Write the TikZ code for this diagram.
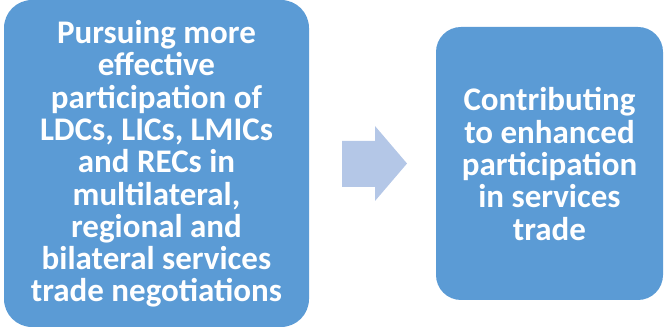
\documentclass[tikz,border=0pt]{standalone}
\usepackage{fontspec}
\setmainfont{Carlito}
\definecolor{boxblue}{HTML}{5B9BD5}
\definecolor{arrowblue}{HTML}{B4C7E7}
\begin{document}
\begin{tikzpicture}[x=1pt, y=-1pt,
    box/.style={fill=boxblue, rounded corners=28pt},
    boxtext/.style={text=white, align=center, font=\fontsize{33}{32.3}\selectfont\bfseries}]
\useasboundingbox (0,0) rectangle (665,328);
\fill[box](4,0) rectangle (309,327);
\fill[box, rounded corners=25pt](436,27) rectangle (663,300);

\node[boxtext] (pursue) at (156.5,164){Pursuing more\\effective\\participation of\\LDCs, LICs, LMICs\\and RECs in\\multilateral,\\regional and\\bilateral services\\trade negotiations};
\node[boxtext] (contrib) at (549.5,164){Contributing\\to enhanced\\participation\\in services\\trade};

% block arrow
\coordinate (tip) at (407,163.5);
\fill[arrowblue](342,141)--(375,141)--(375,126)--(tip)--(375,201)--(375,187)--(342,187)--cycle;
\end{tikzpicture}
\end{document}
